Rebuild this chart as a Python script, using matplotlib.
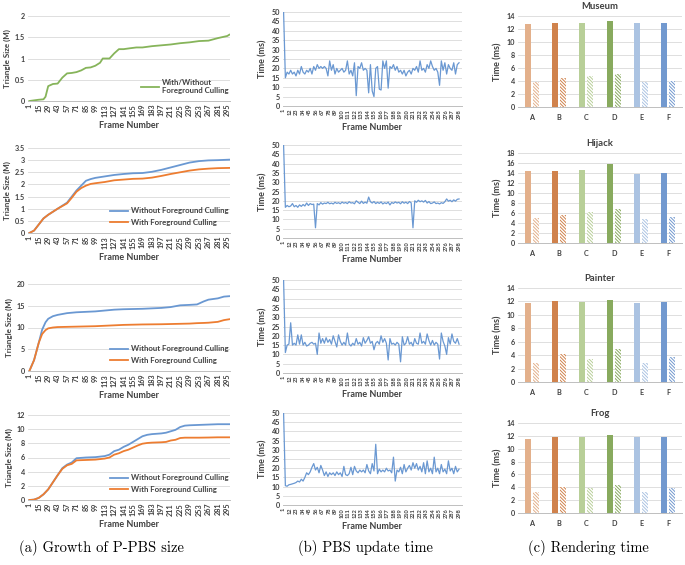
import numpy as np
import matplotlib
matplotlib.use("Agg")
import matplotlib.pyplot as plt

plt.rcParams['font.family'] = ['Lato', 'DejaVu Sans']
plt.rcParams['hatch.linewidth'] = 0.7

TXT = "#404040"
GRID = "#D9D9D9"
BLUE = "#6A98D2"
ORANGE = "#ED7D31"
GREEN = "#86B45A"

# ---------------- (a) growth of P-PBS size ----------------
a1_frames = [1, 15, 22, 25, 29, 36, 43, 50, 57, 64, 71, 78, 85, 92, 99, 106, 110, 120, 127, 134,
             141, 150, 160, 169, 183, 197, 211, 225, 239, 253, 267, 281, 295, 298]
a1_both = [0, 0.03, 0.04, 0.1, 0.35, 0.4, 0.41, 0.55, 0.65, 0.66, 0.68, 0.72, 0.78, 0.79, 0.83, 0.9,
           1.0, 1.0, 1.12, 1.22, 1.22, 1.24, 1.26, 1.26, 1.29, 1.31, 1.33, 1.36, 1.38, 1.41, 1.42,
           1.48, 1.53, 1.56]

a2_frames = [1, 8, 15, 22, 29, 43, 57, 64, 71, 78, 85, 92, 99, 113, 127, 141, 155, 169, 183, 197,
             211, 225, 239, 253, 267, 281, 298]
a2_without = [0, 0.1, 0.35, 0.6, 0.75, 1.0, 1.25, 1.5, 1.75, 1.95, 2.15, 2.22, 2.27, 2.33, 2.39,
              2.43, 2.46, 2.47, 2.52, 2.6, 2.7, 2.8, 2.9, 2.96, 2.99, 3.0, 3.02]
a2_with = [0, 0.1, 0.35, 0.6, 0.75, 1.0, 1.22, 1.45, 1.7, 1.85, 1.95, 2.02, 2.05, 2.1, 2.17,
           2.2, 2.23, 2.24, 2.28, 2.35, 2.43, 2.5, 2.57, 2.62, 2.65, 2.67, 2.68]

a3_frames = [1, 8, 15, 20, 25, 29, 36, 43, 57, 71, 85, 99, 113, 127, 141, 169, 197, 211, 225, 239,
             250, 260, 267, 281, 290, 298]
a3_without = [0, 2.5, 6.5, 9.5, 11.2, 12.0, 12.6, 12.9, 13.3, 13.5, 13.6, 13.7, 13.9, 14.1, 14.2,
              14.3, 14.5, 14.7, 15.1, 15.2, 15.3, 16.0, 16.4, 16.7, 17.1, 17.2]
a3_with = [0, 2.5, 6.5, 8.5, 9.4, 9.8, 10.0, 10.1, 10.15, 10.2, 10.25, 10.3, 10.4, 10.5, 10.6,
           10.7, 10.75, 10.8, 10.85, 10.9, 11.0, 11.05, 11.1, 11.3, 11.7, 11.9]

a4_frames = [1, 8, 15, 22, 29, 36, 43, 50, 57, 64, 71, 85, 99, 113, 120, 127, 134, 141, 148, 155,
             162, 169, 176, 183, 197, 204, 211, 218, 225, 232, 239, 253, 267, 281, 298]
a4_without = [0, 0.05, 0.3, 0.8, 1.5, 2.5, 3.5, 4.5, 5.0, 5.3, 5.9, 6.0, 6.05, 6.2, 6.4, 6.9, 7.1,
              7.5, 7.8, 8.2, 8.6, 9.0, 9.2, 9.3, 9.4, 9.5, 9.7, 9.9, 10.3, 10.5, 10.55, 10.6,
              10.65, 10.7, 10.7]
a4_with = [0, 0.05, 0.3, 0.8, 1.5, 2.5, 3.5, 4.4, 4.9, 5.1, 5.6, 5.65, 5.7, 5.85, 6.0, 6.4, 6.6,
           6.9, 7.1, 7.4, 7.7, 7.95, 8.05, 8.1, 8.15, 8.2, 8.4, 8.5, 8.75, 8.8, 8.8, 8.8, 8.82,
           8.85, 8.85]

a_ticks = list(range(1, 296, 14))
a_ylims = [(2, 0.5), (3.5, 0.5), (20, 5), (12, 2)]

# ---------------- (b) PBS update time (every third frame) ----------------
b1_time = [50, 15, 18, 17, 19, 17, 18, 16, 19, 17, 21, 18, 17, 19, 18, 20, 17, 21, 19, 22,
           20, 21, 20, 21, 20, 16, 24, 19, 22, 17, 20, 18, 19, 20, 18, 19, 24, 17, 19, 16,
           23, 5.5, 21, 20, 23, 19, 20, 19, 7, 22, 8, 5, 20, 21, 9, 8.5, 24, 20, 24, 9.5,
           21, 20, 22, 19, 21, 18, 19, 17, 19, 16, 18, 19, 17, 20, 19, 21, 18, 24, 19, 20,
           18, 22, 20, 24, 21, 19, 20, 18, 11, 24, 19, 23, 17, 22, 20, 19, 23, 17, 22, 23]
b2_time = [50, 16.5, 17.5, 16.8, 17.2, 18.5, 16.8, 17.5, 16.5, 17.8, 17, 18, 17.2, 18.8, 17.5,
           18.5, 18, 18.2, 5.5, 18.5, 17.8, 19, 18.2, 18.8, 18.5, 19.2, 18.4, 18.8, 18.3, 19.2,
           18.6, 19, 18.4, 19.3, 18.7, 19.1, 18.5, 19.5, 18.8, 19, 18.4, 20, 19.2, 18.5, 19.8,
           18.6, 19.3, 18.7, 22, 19.5, 18.8, 19.6, 18.5, 19.2, 18.6, 19.4, 18.3, 19, 18.5, 19.3,
           17.8, 19.1, 18.6, 19.4, 18.8, 19.2, 18.4, 19.5, 18.7, 19.3, 18.5, 19.6, 18.9, 5.5, 20,
           19.2, 20.3, 19.5, 20, 19.3, 20.2, 18.8, 19.6, 18.5, 18.8, 19.4, 18.5, 18.8, 18.3, 19,
           18.6, 19.5, 21, 19.8, 20.3, 19.5, 20.5, 19.8, 20.8, 21]
b3_time = [50, 11, 15, 15.5, 27, 15, 16, 15, 20.5, 15.5, 20.5, 15, 16.5, 14.5, 15, 16, 16.5,
           15.5, 16, 10, 21.5, 16, 18.5, 16, 19, 16.5, 18, 15.5, 20, 17, 14, 20.5, 17, 15,
           16.5, 15, 21.5, 15.5, 14.5, 16, 15, 18.5, 15.5, 16.5, 14.5, 19, 16, 17.5, 19.5, 16,
           17, 12.5, 16, 17, 15.5, 20, 16.5, 18.5, 16, 7, 18.5, 15.5, 16, 15, 16.5, 15.5, 6,
           19.5, 15, 16, 19.5, 15.5, 16.5, 14.5, 18.5, 16, 15.5, 21.5, 16, 17, 15.5, 21, 17.5,
           15, 17.5, 15, 16.5, 15.5, 7.5, 21.5, 17, 14.5, 10, 19, 15.5, 21, 17, 16, 18.5, 15.5]
b4_time = [50, 10.5, 10.2, 11, 11.2, 11.5, 11.8, 12.2, 13, 12.5, 14, 13, 15, 17.5, 16.5, 18,
           20.5, 22.5, 19, 20.5, 17.5, 21.5, 19, 16, 18, 15.5, 17.5, 16.5, 17.5, 16, 18, 16.5,
           17.5, 15.5, 21, 16.5, 16, 17, 20.5, 16.5, 21, 18.5, 17.5, 19, 18, 19, 17.5, 22, 18.5,
           17, 22.5, 18.5, 33, 17, 19.5, 18, 19, 18, 20, 18.5, 19, 17.5, 26, 13, 19, 18, 20.5,
           17, 22, 18, 20, 21.5, 19, 23, 20, 22.5, 19, 21, 18, 23, 17, 24, 18, 20, 17, 26, 18,
           20, 17, 22, 18, 19.5, 17, 24, 18.5, 20, 17, 21, 18, 19.5]
b_ticks = list(range(1, 299, 11))

# ---------------- (c) rendering time ----------------
c_groups = ["A", "B", "C", "D", "E", "F"]
c_colors = ["#E3B08B", "#D0824C", "#B8CF98", "#88AA5E", "#ABC3E2", "#7299CF"]
c_scenes = ["Museum", "Hijack", "Painter", "Frog"]
c_full = [[12.7, 13.0, 13.0, 13.2, 12.9, 13.0],
          [14.5, 14.5, 14.6, 15.8, 13.9, 14.1],
          [11.7, 12.0, 11.9, 12.2, 11.7, 11.9],
          [11.5, 11.9, 11.9, 12.2, 11.8, 11.9]]
c_culled = [[3.8, 4.5, 4.7, 5.1, 3.8, 4.0],
            [5.1, 5.6, 6.2, 6.9, 4.8, 5.3],
            [2.8, 4.1, 3.5, 4.9, 2.9, 3.7],
            [3.3, 4.0, 3.9, 4.4, 3.2, 3.9]]
c_ymax = [14, 18, 14, 14]

fig = plt.figure(figsize=(6.85, 5.65), dpi=100)
W, H = 685.0, 565.0


def add_ax(x0, y0, x1, y1):
    return fig.add_axes([x0 / W, 1 - y1 / H, (x1 - x0) / W, (y1 - y0) / H])


def excel_style(ax):
    for s in ["top", "right", "left"]:
        ax.spines[s].set_visible(False)
    ax.spines["bottom"].set_color("#BFBFBF")
    ax.spines["bottom"].set_linewidth(0.7)
    ax.grid(axis="y", color=GRID, lw=0.6)
    ax.set_axisbelow(True)
    ax.tick_params(length=0, labelsize=5.2, colors=TXT, pad=2)
    for lab in ax.get_xticklabels() + ax.get_yticklabels():
        lab.set_fontweight("bold")


# left column
a_rows = [(16, 101), (148, 233), (284, 371), (415, 500)]
a_data = [(a1_frames, [a1_both]), (a2_frames, [a2_without, a2_with]),
          (a3_frames, [a3_without, a3_with]), (a4_frames, [a4_without, a4_with])]
for i, (top, bot) in enumerate(a_rows):
    ax = add_ax(28, top, 230, bot)
    frames, series = a_data[i]
    if len(series) == 1:
        ax.plot(frames, series[0], color=GREEN, lw=1.3, label="With/Without\nForeground Culling")
    else:
        ax.plot(frames, series[0], color=BLUE, lw=1.3, label="Without Foreground Culling")
        ax.plot(frames, series[1], color=ORANGE, lw=1.3, label="With Foreground Culling")
    ymax, step = a_ylims[i]
    yt = np.arange(0, ymax + step / 2, step)
    ax.set_ylim(0, ymax)
    ax.set_yticks(yt)
    ax.set_yticklabels(["%g" % v for v in yt])
    ax.set_xlim(-1, 299)
    ax.set_xticks(a_ticks)
    ax.set_xticklabels([str(t) for t in a_ticks], rotation=90)
    excel_style(ax)
    ax.set_xlabel("Frame Number", fontsize=6.5, fontweight="bold", color=TXT, labelpad=3)
    ax.set_ylabel("Triangle Size (M)", fontsize=5.8, fontweight="bold", color=TXT, labelpad=3)
    leg = ax.legend(loc="lower right", bbox_to_anchor=(1.03, 0.0), frameon=False,
                    prop={"size": 5.6, "weight": "bold"}, handlelength=2.2,
                    handletextpad=0.5, labelspacing=0.6)
    for t in leg.get_texts():
        t.set_color(TXT)

# middle column
b_rows = [(12, 106), (145, 238), (280, 373), (413, 505)]
b_data = [b1_time, b2_time, b3_time, b4_time]
for i, (top, bot) in enumerate(b_rows):
    ax = add_ax(283, top, 462, bot)
    vals = b_data[i]
    frames = 1 + 3 * np.arange(len(vals))
    ax.plot(frames, vals, color=BLUE, lw=0.9)
    ax.set_ylim(0, 50)
    ax.set_yticks(range(0, 51, 5))
    ax.set_xlim(0, 303)
    ax.set_xticks(b_ticks)
    ax.set_xticklabels([str(t) for t in b_ticks], rotation=90)
    excel_style(ax)
    ax.tick_params(axis="x", labelsize=4.1)
    ax.set_xlabel("Frame Number", fontsize=6.5, fontweight="bold", color=TXT, labelpad=3)
    ax.set_ylabel("Time (ms)", fontsize=6.5, fontweight="bold", color=TXT, labelpad=3)

# right column
c_rows = [(16, 107), (153, 243), (288, 382), (423, 513)]
x = np.arange(len(c_groups))
for i, (top, bot) in enumerate(c_rows):
    ax = add_ax(518, top, 682, bot)
    ax.bar(x - 0.145, c_full[i], width=0.22, color=c_colors)
    for j in range(len(c_groups)):
        ax.bar(x[j] + 0.145, c_culled[i][j], width=0.22, facecolor="white",
               edgecolor=c_colors[j], lw=0, hatch="\\" * 10)
    ax.set_ylim(0, c_ymax[i])
    ax.set_yticks(range(0, c_ymax[i] + 1, 2))
    ax.set_xlim(-0.5, 5.5)
    ax.set_xticks(x)
    ax.set_xticklabels(c_groups)
    excel_style(ax)
    ax.tick_params(axis="x", pad=5)
    ax.set_title(c_scenes[i], fontsize=6.8, fontweight="bold", color=TXT, pad=5)
    ax.set_ylabel("Time (ms)", fontsize=6.5, fontweight="bold", color=TXT, labelpad=3)

cap = {"fontsize": 10.5, "family": "cmr10", "ha": "center", "va": "center"}
fig.text(101 / W, 1 - 548 / H, "(a) Growth of P-PBS size", **cap)
fig.text(365 / W, 1 - 548 / H, "(b) PBS update time", **cap)
fig.text(588 / W, 1 - 548 / H, "(c) Rendering time", **cap)

fig.savefig("out.png", dpi=100)
